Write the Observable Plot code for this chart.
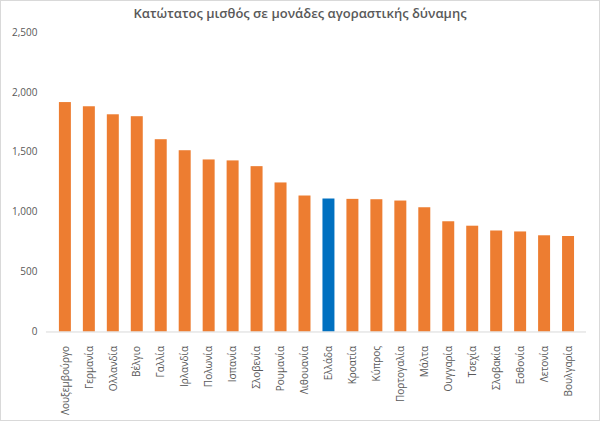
<!DOCTYPE html>
<html>
<head>
<meta charset="utf-8">
<script src="https://cdn.jsdelivr.net/npm/d3@7"></script>
<script src="https://cdn.jsdelivr.net/npm/@observablehq/plot@0.6"></script>
<style>
  html, body { margin: 0; padding: 0; background: #fff; }
  #wrap { width: 600px; height: 421px; box-sizing: border-box; border: 1px solid #d9d9d9; position: relative; overflow: hidden; font-family: "Open Sans", sans-serif; }
  #title { position: absolute; left: 0; top: 3px; width: 100%; text-align: center; font-size: 13px; font-weight: 600; color: #595959; line-height: 18px; }
  #chart { position: absolute; left: -1px; top: 21px; }
</style>
</head>
<body>
<div id="wrap">
  <div id="title">Κατώτατος μισθός σε μονάδες αγοραστικής δύναμης</div>
  <div id="chart"></div>
</div>
<script>
const countries = ["Λουξεμβούργο","Γερμανία","Ολλανδία","Βέλγιο","Γαλλία","Ιρλανδία","Πολωνία","Ισπανία","Σλοβενία","Ρουμανία","Λιθουανία","Ελλάδα","Κροατία","Κύπρος","Πορτογαλία","Μάλτα","Ουγγαρία","Τσεχία","Σλοβακία","Εσθονία","Λετονία","Βουλγαρία"];
const values = [1915,1880,1813,1797,1605,1513,1436,1428,1380,1244,1135,1110,1107,1104,1093,1037,920,883,843,835,803,797];
const highlight = "Ελλάδα";
const yTicks = [0,500,1000,1500,2000,2500];

const data = countries.map((c, i) => ({country: c, value: values[i]}));

const chart = Plot.plot({
  width: 600,
  height: 400,
  marginTop: 10,
  marginBottom: 90,
  marginLeft: 46,
  marginRight: 13,
  style: {fontFamily: "Open Sans, sans-serif", fontSize: "10px", color: "#595959", background: "transparent"},
  x: {domain: countries, paddingInner: 0.5, paddingOuter: 0.25, label: null},
  y: {domain: [0, 2500], label: null},
  marks: [
    Plot.barY(data, {x: "country", y: "value", fill: d => d.country === highlight ? "#0070C0" : "#ED7D31"}),
    Plot.ruleY([0], {stroke: "#d9d9d9"}),
    Plot.axisY({ticks: yTicks, tickSize: 0, tickPadding: 9, tickFormat: d3.format(","), label: null, fill: "#595959"}),
    Plot.axisX({tickSize: 0, tickRotate: -90, tickPadding: 14, label: null, fill: "#595959"})
  ]
});
document.getElementById("chart").appendChild(chart);
</script>
</body>
</html>
